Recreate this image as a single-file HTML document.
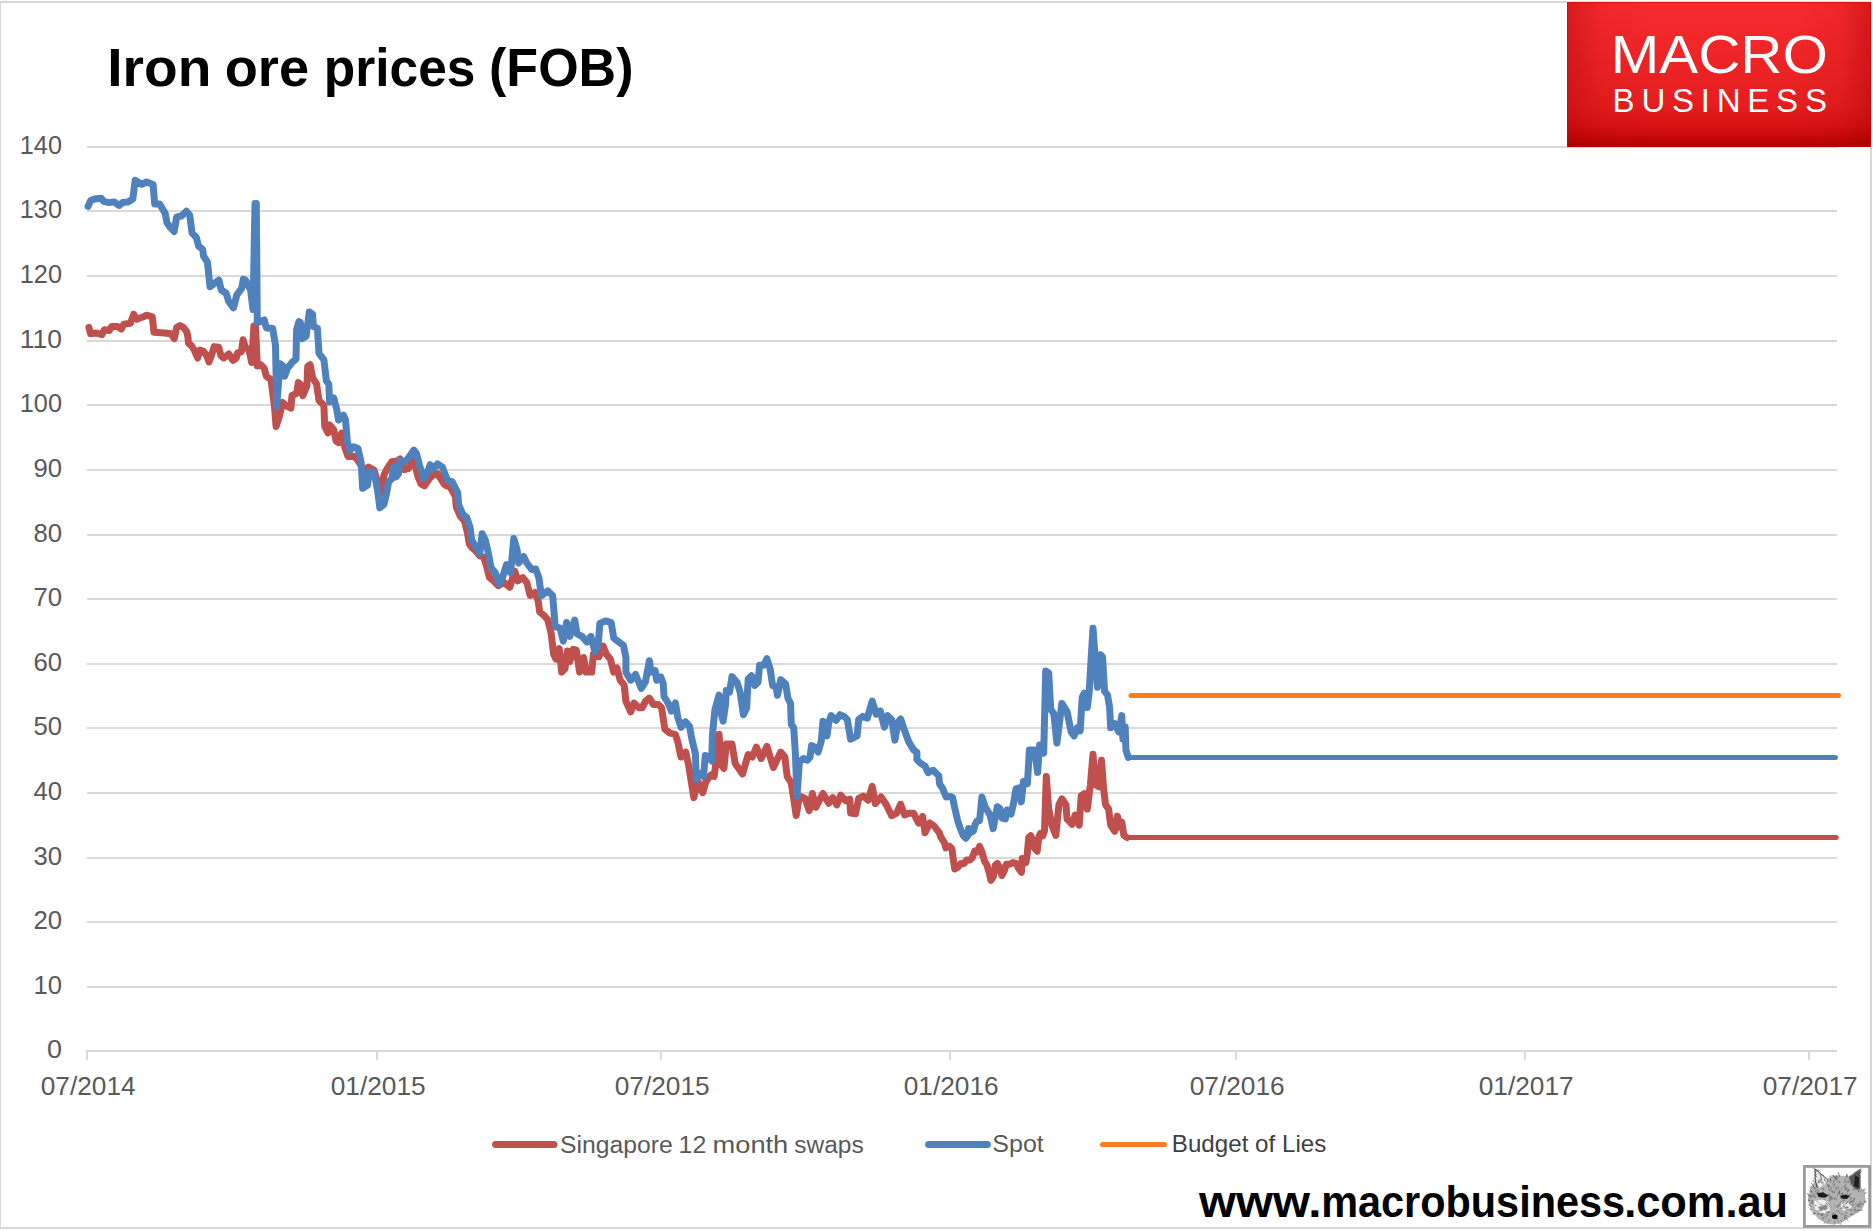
<!DOCTYPE html>
<html><head><meta charset="utf-8"><title>Iron ore prices (FOB)</title>
<style>html,body{margin:0;padding:0;background:#fff;width:1873px;height:1231px;overflow:hidden}svg{display:block}</style>
</head><body>
<svg width="1873" height="1231" viewBox="0 0 1873 1231">
<defs>
<linearGradient id="lg" x1="0" y1="0" x2="0" y2="1">
<stop offset="0" stop-color="#f72b2f"/><stop offset="0.35" stop-color="#ef2527"/><stop offset="0.7" stop-color="#e61e1f"/><stop offset="0.86" stop-color="#d81212"/><stop offset="1" stop-color="#b40000"/>
</linearGradient>
<linearGradient id="lv" x1="0" y1="0" x2="1" y2="0">
<stop offset="0" stop-color="#a00000" stop-opacity="0.35"/><stop offset="0.12" stop-color="#a00000" stop-opacity="0.08"/><stop offset="0.3" stop-color="#a00000" stop-opacity="0"/><stop offset="0.75" stop-color="#a00000" stop-opacity="0"/><stop offset="0.9" stop-color="#a00000" stop-opacity="0.1"/><stop offset="1" stop-color="#a00000" stop-opacity="0.4"/>
</linearGradient>
</defs>
<g fill="#d6d6d6">
<rect x="0" y="1" width="1567" height="2"/>
<rect x="0" y="1" width="1" height="1228"/>
<rect x="1870" y="147" width="2" height="1082"/>
<rect x="0" y="1227" width="1872" height="2"/>
</g>
<g fill="#d9d9d9">
<rect x="86" y="1050" width="1751" height="2"/>
<rect x="87" y="986" width="1750" height="2"/>
<rect x="87" y="921" width="1750" height="2"/>
<rect x="87" y="857" width="1750" height="2"/>
<rect x="87" y="792" width="1750" height="2"/>
<rect x="87" y="727" width="1750" height="2"/>
<rect x="87" y="663" width="1750" height="2"/>
<rect x="87" y="598" width="1750" height="2"/>
<rect x="87" y="534" width="1750" height="2"/>
<rect x="87" y="469" width="1750" height="2"/>
<rect x="87" y="404" width="1750" height="2"/>
<rect x="87" y="340" width="1750" height="2"/>
<rect x="87" y="275" width="1750" height="2"/>
<rect x="87" y="210" width="1750" height="2"/>
<rect x="87" y="146" width="1750" height="2"/>
<rect x="86" y="1052" width="2" height="8"/>
<rect x="376" y="1052" width="2" height="8"/>
<rect x="660" y="1052" width="2" height="8"/>
<rect x="949" y="1052" width="2" height="8"/>
<rect x="1235" y="1052" width="2" height="8"/>
<rect x="1524" y="1052" width="2" height="8"/>
<rect x="1808" y="1052" width="2" height="8"/>
</g>
<g font-family="Liberation Sans, Arial, sans-serif" font-size="25" fill="#595959">
<text x="62.0" y="1058.0" text-anchor="end" textLength="15.0" lengthAdjust="spacingAndGlyphs">0</text>
<text x="62.0" y="994.0" text-anchor="end" textLength="28.6" lengthAdjust="spacingAndGlyphs">10</text>
<text x="62.0" y="929.0" text-anchor="end" textLength="28.6" lengthAdjust="spacingAndGlyphs">20</text>
<text x="62.0" y="865.0" text-anchor="end" textLength="28.6" lengthAdjust="spacingAndGlyphs">30</text>
<text x="62.0" y="800.0" text-anchor="end" textLength="28.6" lengthAdjust="spacingAndGlyphs">40</text>
<text x="62.0" y="735.0" text-anchor="end" textLength="28.6" lengthAdjust="spacingAndGlyphs">50</text>
<text x="62.0" y="671.0" text-anchor="end" textLength="28.6" lengthAdjust="spacingAndGlyphs">60</text>
<text x="62.0" y="606.0" text-anchor="end" textLength="28.6" lengthAdjust="spacingAndGlyphs">70</text>
<text x="62.0" y="542.0" text-anchor="end" textLength="28.6" lengthAdjust="spacingAndGlyphs">80</text>
<text x="62.0" y="477.0" text-anchor="end" textLength="28.6" lengthAdjust="spacingAndGlyphs">90</text>
<text x="62.0" y="412.0" text-anchor="end" textLength="42.2" lengthAdjust="spacingAndGlyphs">100</text>
<text x="62.0" y="348.0" text-anchor="end" textLength="42.2" lengthAdjust="spacingAndGlyphs">110</text>
<text x="62.0" y="283.0" text-anchor="end" textLength="42.2" lengthAdjust="spacingAndGlyphs">120</text>
<text x="62.0" y="218.0" text-anchor="end" textLength="42.2" lengthAdjust="spacingAndGlyphs">130</text>
<text x="62.0" y="154.0" text-anchor="end" textLength="42.2" lengthAdjust="spacingAndGlyphs">140</text>
<text x="88.2" y="1095" text-anchor="middle" textLength="95" lengthAdjust="spacingAndGlyphs">07/2014</text>
<text x="378.2" y="1095" text-anchor="middle" textLength="95" lengthAdjust="spacingAndGlyphs">01/2015</text>
<text x="662.2" y="1095" text-anchor="middle" textLength="95" lengthAdjust="spacingAndGlyphs">07/2015</text>
<text x="951.2" y="1095" text-anchor="middle" textLength="95" lengthAdjust="spacingAndGlyphs">01/2016</text>
<text x="1237.2" y="1095" text-anchor="middle" textLength="95" lengthAdjust="spacingAndGlyphs">07/2016</text>
<text x="1526.2" y="1095" text-anchor="middle" textLength="95" lengthAdjust="spacingAndGlyphs">01/2017</text>
<text x="1810.2" y="1095" text-anchor="middle" textLength="95" lengthAdjust="spacingAndGlyphs">07/2017</text>
</g>
<polyline fill="none" stroke="#c0504d" stroke-width="5" stroke-linecap="round" points="1126.9,837.5 1836.2,837.5"/>
<polyline fill="none" stroke="#c0504d" stroke-width="7" stroke-linejoin="round" stroke-linecap="round" points="88.9,327.3 90.6,333.8 96.2,333.0 101.9,334.7 104.4,329.8 109.2,330.6 111.7,326.5 117.4,326.5 121.4,329.0 123.9,324.1 130.4,323.3 133.6,314.3 136.9,319.2 143.4,316.8 146.6,315.2 152.3,316.8 153.9,332.2 164.5,333.0 171.0,333.8 174.2,338.7 176.7,327.3 180.0,325.6 183.4,327.3 186.8,331.8 188.0,337.5 188.5,343.2 191.4,345.5 194.2,350.0 197.6,358.0 199.9,350.0 203.3,351.2 206.7,355.7 209.0,362.0 211.8,354.6 214.1,346.6 218.7,347.2 220.9,355.7 223.8,358.0 228.9,354.0 232.9,360.3 236.3,358.0 237.4,352.9 241.4,351.8 243.1,339.8 245.4,347.8 248.8,348.9 251.7,362.6 253.9,326.0 255.5,326.0 257.3,366.0 260.8,364.8 264.2,368.2 266.4,376.2 271.0,379.6 274.4,405.8 276.1,426.5 279.5,416.0 282.4,402.4 286.3,405.8 290.9,408.1 292.0,395.5 296.6,393.3 298.3,382.6 300.4,384.2 302.8,395.6 306.9,385.9 307.7,366.4 310.1,364.7 312.6,377.7 316.6,384.2 319.0,400.5 323.9,405.4 324.7,426.5 328.0,433.0 329.6,424.9 333.7,429.7 336.1,441.1 338.5,442.7 341.6,433.0 344.9,447.6 348.1,456.6 354.6,456.6 357.9,460.6 364.4,470.4 368.4,467.1 374.1,470.4 379.0,486.6 381.4,493.1 383.9,475.2 387.1,468.7 392.0,461.4 396.1,461.4 400.1,459.0 404.2,469.6 408.2,468.7 411.5,462.2 413.9,460.6 418.0,476.9 421.2,484.2 424.5,485.8 429.4,478.5 432.6,475.2 437.5,473.6 440.7,478.5 444.0,484.0 447.0,486.0 450.0,486.5 453.0,492.0 455.5,497.0 456.3,507.0 460.5,516.5 464.5,521.0 467.5,533.0 469.3,544.0 472.0,547.5 476.0,551.0 480.0,556.0 483.5,557.0 486.5,566.0 489.5,577.6 493.5,580.8 498.4,585.7 504.1,582.5 509.8,587.3 514.7,571.1 517.9,580.8 522.8,577.6 526.8,582.5 530.1,595.5 534.9,592.5 538.1,600.6 539.7,612.0 543.8,615.2 547.9,620.1 551.1,633.1 553.6,654.2 556.0,659.1 559.2,648.5 561.7,672.1 564.9,668.9 567.4,651.0 569.8,661.5 573.1,649.4 576.3,650.2 579.6,672.1 583.6,657.5 586.1,672.1 591.7,672.1 593.4,654.2 599.0,656.7 603.1,646.1 606.4,654.2 610.4,659.1 613.7,672.1 616.9,668.0 620.2,680.2 624.2,685.1 625.9,701.3 630.7,711.9 634.0,703.0 638.9,707.8 642.1,707.8 645.4,701.3 649.4,698.1 653.5,704.6 658.3,704.6 661.6,707.8 664.8,729.0 669.7,733.0 675.4,734.7 677.8,742.0 681.0,757.0 685.7,752.1 688.9,766.7 693.8,797.6 697.9,781.3 702.7,792.7 706.0,781.3 710.9,774.8 714.1,776.5 715.7,765.1 719.0,734.2 721.4,765.1 723.9,768.4 726.3,744.0 732.0,744.0 735.2,763.5 742.5,774.0 748.2,754.5 752.3,757.0 756.4,747.2 761.2,758.6 766.9,746.4 773.4,767.5 780.7,752.1 784.8,757.0 787.2,776.5 791.3,783.0 796.2,815.5 799.4,796.0 805.1,798.4 809.2,810.6 812.4,793.5 815.7,807.3 823.0,793.5 828.7,803.3 832.7,797.6 836.8,804.9 840.8,795.2 845.7,800.8 849.8,799.2 850.6,813.0 855.5,813.8 858.7,798.4 863.4,796.0 868.1,800.2 872.2,786.4 875.4,803.5 881.1,797.0 886.0,804.3 891.7,815.7 896.6,813.2 900.6,804.3 904.7,814.9 908.7,813.2 913.6,813.2 918.5,823.0 922.6,816.5 925.0,832.7 929.9,823.0 934.1,826.0 936.5,829.2 939.3,832.5 940.6,836.6 943.0,840.6 944.6,843.1 945.8,847.9 949.5,846.3 951.9,848.7 953.6,861.7 954.8,869.0 957.6,867.4 960.9,863.4 964.1,863.4 966.6,860.1 969.8,860.1 972.2,857.7 974.7,851.2 977.1,852.0 979.6,846.3 982.0,852.0 984.4,860.9 986.9,865.0 989.3,873.1 990.9,880.4 993.4,876.4 995.4,865.0 997.4,863.4 999.9,868.2 1001.9,875.5 1004.3,870.7 1006.4,864.2 1009.6,864.2 1012.9,862.6 1016.1,863.4 1018.5,868.2 1021.4,872.3 1022.2,858.5 1025.9,862.6 1027.1,855.2 1028.8,837.4 1030.7,835.7 1033.2,841.4 1034.8,848.7 1037.2,851.2 1038.9,836.6 1040.5,833.3 1042.9,835.7 1044.5,830.9 1046.3,776.5 1048.7,809.0 1051.8,825.2 1055.8,835.4 1058.9,804.9 1061.9,798.8 1066.0,804.9 1067.0,819.1 1072.1,824.2 1075.1,815.1 1079.2,825.2 1081.2,795.8 1084.3,793.8 1087.3,809.0 1090.4,784.6 1093.0,754.2 1095.4,784.6 1098.5,786.7 1101.5,760.3 1103.6,788.7 1105.6,804.9 1108.6,809.0 1110.7,825.2 1114.7,831.3 1117.4,816.1 1119.8,827.3 1121.8,822.2 1123.9,835.4 1126.9,837.5"/>
<polyline fill="none" stroke="#4f81bd" stroke-width="5" stroke-linecap="round" points="1128.3,757.5 1835.5,757.5"/>
<polyline fill="none" stroke="#4f81bd" stroke-width="7" stroke-linejoin="round" stroke-linecap="round" points="88.1,206.3 90.6,200.6 94.6,199.0 101.1,198.2 103.6,201.4 109.2,202.6 114.1,201.9 119.0,205.5 123.0,202.2 128.0,201.9 132.8,199.0 135.2,180.3 141.7,184.4 146.6,181.9 153.1,184.4 154.7,203.9 159.6,203.9 165.3,213.6 166.9,222.6 170.2,227.4 174.2,231.5 176.7,216.9 181.5,216.0 186.4,211.2 189.7,215.2 192.1,233.1 196.2,237.2 198.6,246.1 202.7,249.4 203.5,255.9 207.5,262.4 210.0,286.7 218.9,280.2 221.3,290.0 226.2,293.2 228.7,301.4 233.5,307.8 236.8,294.9 241.7,288.4 243.3,279.4 245.7,280.2 250.6,290.0 253.0,309.5 255.0,203.5 256.3,203.5 257.3,322.7 264.2,319.9 266.4,327.9 272.7,328.4 275.5,345.5 276.7,406.5 280.1,363.7 282.9,366.0 284.6,376.2 287.5,368.2 292.2,362.3 296.0,359.1 296.6,329.6 298.9,321.6 300.4,322.5 302.0,338.7 306.1,336.3 309.3,311.9 312.6,314.4 313.4,326.6 317.4,328.2 319.0,353.4 323.9,359.9 326.4,381.0 328.8,384.2 329.6,402.1 333.7,398.0 336.9,410.2 338.5,420.0 343.4,415.1 345.5,420.0 347.3,441.1 349.7,450.9 353.8,446.8 357.9,448.4 361.1,462.2 362.7,488.2 367.6,485.0 369.2,472.0 373.3,472.0 375.7,480.1 378.2,494.7 379.8,507.7 383.9,504.5 386.3,494.7 388.7,481.7 392.0,478.5 393.6,467.1 396.1,476.9 398.5,473.6 400.1,460.6 405.0,461.4 408.2,458.2 413.9,450.1 416.4,453.3 419.6,465.5 423.7,478.5 426.9,473.6 430.2,464.7 433.4,468.7 437.5,463.9 442.4,467.1 444.8,473.6 448.0,480.9 452.1,481.7 455.4,488.2 457.8,493.1 458.6,504.5 462.7,514.2 466.7,517.5 470.0,527.2 471.6,540.2 475.7,546.7 479.7,553.2 482.2,533.7 485.4,540.2 488.7,554.8 491.1,567.8 495.2,572.7 499.2,584.1 502.5,577.6 506.5,564.6 510.6,572.7 513.8,538.6 517.1,550.0 518.7,563.0 523.6,556.5 526.8,563.0 531.7,569.5 535.7,568.9 538.9,577.9 541.4,595.7 547.9,590.9 552.7,595.7 555.2,626.6 560.1,628.2 563.3,641.2 566.6,622.5 569.8,636.4 574.7,620.1 577.1,633.9 582.0,636.4 586.9,642.0 590.9,636.4 595.0,651.8 598.2,644.5 599.9,623.4 605.5,620.9 611.2,622.6 613.7,638.0 617.7,641.2 623.4,645.3 625.9,657.5 625.9,672.1 630.7,680.2 635.6,674.5 641.3,688.4 645.4,681.9 649.4,660.7 651.0,672.1 655.1,670.5 656.7,680.2 660.8,677.0 663.2,683.5 664.0,696.5 668.1,703.0 671.4,711.1 675.4,703.0 677.8,717.6 681.1,727.3 685.5,721.8 689.5,726.3 692.2,740.7 695.4,753.7 696.2,779.7 699.5,773.2 703.6,776.5 705.2,755.4 709.2,757.0 711.7,761.0 712.5,734.2 714.9,709.9 719.0,695.2 720.6,711.5 723.1,721.2 725.5,705.0 726.3,690.4 729.6,692.0 732.0,676.6 736.9,682.2 740.1,692.0 743.4,714.7 746.6,708.2 748.2,679.0 751.5,675.7 754.7,685.5 758.0,682.2 759.6,665.2 763.7,665.2 766.9,658.7 770.2,669.2 772.6,685.5 775.9,687.1 777.5,695.2 780.7,679.8 785.6,683.9 788.0,698.5 790.5,703.4 791.3,724.5 793.7,727.7 795.4,753.7 797.0,796.0 799.4,761.9 803.5,758.6 807.5,760.2 810.0,757.0 811.6,745.6 814.9,747.2 818.1,752.1 821.3,740.7 823.0,721.2 827.0,735.9 828.7,722.9 831.1,715.5 836.0,720.4 840.0,714.7 844.1,716.4 847.3,719.6 850.6,739.1 857.1,735.9 858.7,719.6 862.8,716.4 867.3,718.2 872.2,701.1 876.2,714.1 880.3,710.9 884.4,727.1 887.6,715.7 891.7,719.8 894.9,740.1 898.2,722.2 900.6,719.0 903.9,728.7 908.7,741.7 913.6,749.9 916.9,752.3 916.9,759.6 920.1,762.9 925.0,766.1 928.2,772.6 933.1,770.2 938.8,775.9 939.6,784.0 942.9,788.9 946.1,797.0 950.2,796.5 952.6,797.5 954.5,807.0 957.6,820.3 960.1,828.0 963.3,835.7 965.7,838.2 967.8,835.7 968.6,828.4 970.6,832.5 973.5,830.9 975.1,824.4 977.1,821.1 979.6,820.5 981.9,797.0 985.1,806.7 990.0,814.9 993.2,828.7 997.3,806.7 999.7,808.4 1002.2,818.1 1005.4,818.9 1007.0,810.0 1011.1,814.0 1013.5,803.5 1016.0,788.9 1019.3,787.7 1021.3,801.9 1023.4,781.6 1027.4,783.6 1029.4,750.1 1034.5,750.1 1037.6,772.4 1039.6,745.0 1043.7,753.1 1045.7,670.9 1048.7,672.9 1050.8,709.5 1053.8,713.6 1056.9,743.0 1061.9,703.4 1067.0,711.5 1071.1,731.8 1074.1,735.9 1077.2,727.8 1080.2,730.8 1082.2,697.3 1084.3,693.2 1087.3,707.5 1089.3,691.2 1090.4,670.9 1093.0,628.3 1095.4,660.8 1097.5,687.2 1100.5,654.7 1102.5,656.7 1104.6,691.2 1107.6,695.3 1109.6,707.5 1110.7,727.8 1114.7,723.7 1118.8,731.8 1121.8,715.6 1122.9,739.0 1125.2,727.0 1125.9,750.0 1128.3,757.5"/>
<line x1="1131.0" y1="695.5" x2="1838.5" y2="695.5" stroke="#fd7b22" stroke-width="5" stroke-linecap="round"/>
<g font-family="Liberation Sans, Arial, sans-serif" font-weight="bold" font-size="53" fill="#000">
<text x="107.3" y="86" textLength="104.0" lengthAdjust="spacingAndGlyphs">Iron</text>
<text x="224.75" y="86" textLength="84.36" lengthAdjust="spacingAndGlyphs">ore</text>
<text x="323.8" y="86" textLength="151.58" lengthAdjust="spacingAndGlyphs">prices</text>
<text x="489.05" y="86" textLength="144.48" lengthAdjust="spacingAndGlyphs">(FOB)</text>
</g>
<rect x="1567" y="2" width="304" height="145" fill="url(#lg)"/>
<rect x="1567" y="2" width="304" height="145" fill="url(#lv)"/>
<rect x="1567" y="1" width="305" height="1" fill="#e4ecec"/><rect x="1871" y="2" width="1" height="145" fill="#eef4f4"/>
<g fill="#dc0202" fill-opacity="0.65"><rect x="1567" y="2" width="304" height="1"/><rect x="1567" y="3" width="1" height="144"/><rect x="1870" y="3" width="1" height="144"/></g>
<text x="1610.8" y="73.4" font-family="Liberation Sans, Arial, sans-serif" font-size="54.2" fill="#fff" textLength="217" lengthAdjust="spacingAndGlyphs">MACRO</text>
<text x="1612.6" y="112.1" font-family="Liberation Sans, Arial, sans-serif" font-size="33" fill="#fff" textLength="214.3" lengthAdjust="spacing">BUSINESS</text>
<g stroke-linecap="round">
<line x1="495.5" y1="1144.5" x2="554" y2="1144.5" stroke="#c0504d" stroke-width="7"/>
<line x1="928.6" y1="1144.5" x2="987.4" y2="1144.5" stroke="#4f81bd" stroke-width="7"/>
<line x1="1102.5" y1="1144.5" x2="1164.4" y2="1144.5" stroke="#fd7b22" stroke-width="5"/>
</g>
<g font-family="Liberation Sans, Arial, sans-serif" fill="#595959">
<text x="560.0" y="1153" font-size="24.7" textLength="112.76" lengthAdjust="spacingAndGlyphs">Singapore</text>
<text x="678.6" y="1153" font-size="24.7" textLength="27.81" lengthAdjust="spacingAndGlyphs">12</text>
<text x="712.5" y="1153" font-size="24.7" textLength="75.8" lengthAdjust="spacingAndGlyphs">month</text>
<text x="794.3" y="1153" font-size="24.7" textLength="69.36" lengthAdjust="spacingAndGlyphs">swaps</text>
<text x="992.3" y="1152.2" font-size="24.7" textLength="51.5" lengthAdjust="spacingAndGlyphs">Spot</text>
<text x="1171.8" y="1151.8" font-size="23.2" fill="#404040" textLength="154.5" lengthAdjust="spacingAndGlyphs">Budget of Lies</text>
</g>
<g font-family="Liberation Sans, Arial, sans-serif" font-weight="bold" font-size="45" fill="#000">
<text x="1199.0" y="1217.2" textLength="122.4" lengthAdjust="spacingAndGlyphs">www.</text>
<text x="1321.2" y="1217.2" textLength="303.9" lengthAdjust="spacingAndGlyphs">macrobusiness</text>
<text x="1624.2" y="1217.2" textLength="163.9" lengthAdjust="spacingAndGlyphs">.com.au</text>
</g>
<rect x="1804.4" y="1166.4" width="65.2" height="60" fill="#fff" stroke="#9a9a9a" stroke-width="2.8"/>
<g><polygon points="1814.8,1168.3 1828.1,1179.3 1830,1175.5 1839,1175.3 1847.5,1176.8 1860.6,1168.3 1860.8,1188 1864.4,1189.6 1865.6,1200.8 1862,1210 1851.6,1216.2 1842,1222.3 1834.7,1224.6 1827,1223.9 1818.4,1218.7 1811.7,1211 1807.6,1200.3 1810.2,1188.5 1815.3,1180.4" fill="#b4b4b4"/><path d="M1815 1169 L1827.5 1179.6 L1824 1186 L1818 1188 L1815.6 1181 Z" fill="#eaeaea"/><path d="M1814 1201 L1822 1199.5 L1829 1202 L1830 1211 L1822 1214 L1815 1209 Z" fill="#efefef"/><path d="M1840 1204 L1848 1202 L1852 1208 L1843 1211 Z" fill="#efefef"/><path d="M1838.6 1188.8L1837.9 1186.4" stroke="#5a5a5a" stroke-width="0.8"/><path d="M1812.1 1191.8L1809.7 1190.7" stroke="#5a5a5a" stroke-width="0.8"/><path d="M1855.8 1175.1L1856.4 1172.4" stroke="#5a5a5a" stroke-width="0.8"/><path d="M1841.0 1190.6L1842.1 1189.4" stroke="#6e6e6e" stroke-width="0.8"/><path d="M1824.1 1176.2L1822.8 1174.6" stroke="#6e6e6e" stroke-width="0.8"/><path d="M1813.1 1200.6L1811.4 1200.3" stroke="#5a5a5a" stroke-width="0.8"/><path d="M1840.3 1203.3L1841.6 1201.1" stroke="#808080" stroke-width="0.8"/><path d="M1834.5 1220.6L1834.6 1222.6" stroke="#6e6e6e" stroke-width="0.8"/><path d="M1848.2 1181.9L1849.4 1179.7" stroke="#808080" stroke-width="0.8"/><path d="M1850.0 1184.4L1851.5 1183.4" stroke="#474747" stroke-width="0.8"/><path d="M1816.7 1187.5L1816.3 1185.2" stroke="#5a5a5a" stroke-width="0.8"/><path d="M1852.1 1200.7L1854.2 1200.2" stroke="#808080" stroke-width="0.8"/><path d="M1842.1 1201.1L1843.7 1198.3" stroke="#808080" stroke-width="0.8"/><path d="M1835.0 1205.9L1833.7 1203.2" stroke="#959595" stroke-width="0.8"/><path d="M1823.8 1190.0L1823.3 1188.5" stroke="#474747" stroke-width="0.8"/><path d="M1828.0 1202.8L1826.8 1201.3" stroke="#808080" stroke-width="0.8"/><path d="M1814.6 1182.1L1812.5 1179.6" stroke="#5a5a5a" stroke-width="0.8"/><path d="M1816.8 1190.9L1815.4 1189.8" stroke="#474747" stroke-width="0.8"/><path d="M1858.0 1183.9L1859.2 1182.0" stroke="#474747" stroke-width="0.8"/><path d="M1817.4 1181.2L1815.6 1179.5" stroke="#959595" stroke-width="0.8"/><path d="M1817.8 1184.1L1815.7 1182.5" stroke="#959595" stroke-width="0.8"/><path d="M1840.4 1222.3L1841.1 1224.8" stroke="#959595" stroke-width="0.8"/><path d="M1845.6 1210.2L1848.8 1209.5" stroke="#959595" stroke-width="0.8"/><path d="M1830.2 1190.7L1828.5 1188.5" stroke="#5a5a5a" stroke-width="0.8"/><path d="M1840.4 1198.6L1842.5 1196.8" stroke="#5a5a5a" stroke-width="0.8"/><path d="M1858.6 1203.0L1860.1 1201.7" stroke="#808080" stroke-width="0.8"/><path d="M1842.5 1195.0L1842.6 1192.6" stroke="#474747" stroke-width="0.8"/><path d="M1835.3 1185.8L1834.3 1183.0" stroke="#808080" stroke-width="0.8"/><path d="M1835.2 1207.4L1835.4 1205.5" stroke="#959595" stroke-width="0.8"/><path d="M1828.3 1207.3L1826.8 1204.8" stroke="#808080" stroke-width="0.8"/><path d="M1848.1 1182.9L1848.6 1181.1" stroke="#6e6e6e" stroke-width="0.8"/><path d="M1838.4 1212.4L1840.4 1212.3" stroke="#6e6e6e" stroke-width="0.8"/><path d="M1850.7 1180.9L1851.7 1179.0" stroke="#5a5a5a" stroke-width="0.8"/><path d="M1834.9 1179.0L1835.1 1176.9" stroke="#808080" stroke-width="0.8"/><path d="M1820.0 1180.9L1818.7 1179.5" stroke="#959595" stroke-width="0.8"/><path d="M1827.3 1204.7L1826.5 1203.1" stroke="#474747" stroke-width="0.8"/><path d="M1853.2 1210.8L1855.0 1210.6" stroke="#808080" stroke-width="0.8"/><path d="M1849.6 1194.4L1850.9 1193.4" stroke="#6e6e6e" stroke-width="0.8"/><path d="M1817.0 1175.2L1814.6 1172.9" stroke="#6e6e6e" stroke-width="0.8"/><path d="M1843.1 1202.0L1845.1 1199.3" stroke="#6e6e6e" stroke-width="0.8"/><path d="M1839.4 1175.5L1838.1 1172.3" stroke="#5a5a5a" stroke-width="0.8"/><path d="M1838.1 1221.2L1839.3 1224.2" stroke="#6e6e6e" stroke-width="0.8"/><path d="M1836.6 1211.5L1838.9 1210.4" stroke="#6e6e6e" stroke-width="0.8"/><path d="M1860.0 1205.8L1862.5 1205.9" stroke="#959595" stroke-width="0.8"/><path d="M1837.1 1217.7L1837.3 1220.5" stroke="#6e6e6e" stroke-width="0.8"/><path d="M1817.2 1195.0L1815.7 1192.8" stroke="#808080" stroke-width="0.8"/><path d="M1847.3 1198.3L1849.2 1195.9" stroke="#959595" stroke-width="0.8"/><path d="M1859.7 1171.6L1861.0 1168.4" stroke="#959595" stroke-width="0.8"/><path d="M1837.2 1207.5L1838.2 1205.1" stroke="#474747" stroke-width="0.8"/><path d="M1837.0 1182.1L1837.2 1178.9" stroke="#808080" stroke-width="0.8"/><path d="M1819.0 1193.5L1817.3 1191.9" stroke="#808080" stroke-width="0.8"/><path d="M1811.3 1206.2L1808.5 1204.5" stroke="#6e6e6e" stroke-width="0.8"/><path d="M1862.4 1204.7L1864.3 1203.9" stroke="#6e6e6e" stroke-width="0.8"/><path d="M1863.2 1190.7L1865.9 1188.6" stroke="#6e6e6e" stroke-width="0.8"/><path d="M1816.5 1192.6L1815.0 1191.0" stroke="#6e6e6e" stroke-width="0.8"/><path d="M1828.6 1187.3L1827.7 1184.5" stroke="#474747" stroke-width="0.8"/><path d="M1826.6 1203.6L1825.4 1202.4" stroke="#6e6e6e" stroke-width="0.8"/><path d="M1853.0 1183.4L1853.4 1181.1" stroke="#808080" stroke-width="0.8"/><path d="M1831.0 1198.6L1830.3 1196.2" stroke="#808080" stroke-width="0.8"/><path d="M1847.6 1192.2L1848.1 1188.9" stroke="#5a5a5a" stroke-width="0.8"/><path d="M1854.3 1172.8L1855.5 1171.7" stroke="#5a5a5a" stroke-width="0.8"/><path d="M1833.8 1187.3L1833.8 1184.0" stroke="#808080" stroke-width="0.8"/><path d="M1844.1 1198.3L1844.8 1196.0" stroke="#6e6e6e" stroke-width="0.8"/><path d="M1823.0 1213.8L1821.5 1213.3" stroke="#5a5a5a" stroke-width="0.8"/><path d="M1850.3 1199.4L1851.6 1197.3" stroke="#474747" stroke-width="0.8"/><path d="M1832.5 1196.2L1832.9 1194.0" stroke="#959595" stroke-width="0.8"/><path d="M1825.2 1180.3L1824.1 1178.7" stroke="#6e6e6e" stroke-width="0.8"/><path d="M1830.9 1187.8L1829.9 1186.4" stroke="#5a5a5a" stroke-width="0.8"/><path d="M1843.9 1218.2L1845.3 1219.0" stroke="#474747" stroke-width="0.8"/><path d="M1858.4 1206.2L1860.1 1205.3" stroke="#808080" stroke-width="0.8"/><path d="M1828.5 1186.7L1829.0 1184.7" stroke="#5a5a5a" stroke-width="0.8"/><path d="M1829.5 1195.1L1828.9 1193.2" stroke="#959595" stroke-width="0.8"/><path d="M1855.2 1176.2L1856.5 1174.3" stroke="#808080" stroke-width="0.8"/><path d="M1825.0 1181.3L1824.4 1178.8" stroke="#6e6e6e" stroke-width="0.8"/><path d="M1845.8 1208.8L1848.1 1209.0" stroke="#808080" stroke-width="0.8"/><path d="M1849.5 1196.2L1850.9 1193.8" stroke="#6e6e6e" stroke-width="0.8"/><path d="M1859.6 1203.8L1862.7 1203.5" stroke="#6e6e6e" stroke-width="0.8"/><path d="M1840.5 1214.3L1843.4 1214.1" stroke="#6e6e6e" stroke-width="0.8"/><path d="M1829.2 1193.7L1828.2 1192.6" stroke="#959595" stroke-width="0.8"/><path d="M1847.2 1195.9L1847.6 1192.8" stroke="#959595" stroke-width="0.8"/><path d="M1860.0 1173.2L1861.7 1170.8" stroke="#474747" stroke-width="0.8"/><path d="M1822.7 1209.6L1819.7 1209.9" stroke="#474747" stroke-width="0.8"/><path d="M1836.1 1189.8L1836.2 1186.9" stroke="#5a5a5a" stroke-width="0.8"/><path d="M1843.4 1204.6L1844.1 1203.0" stroke="#808080" stroke-width="0.8"/><path d="M1845.4 1207.5L1847.1 1207.0" stroke="#474747" stroke-width="0.8"/><path d="M1846.6 1207.5L1848.7 1207.0" stroke="#959595" stroke-width="0.8"/><path d="M1823.8 1194.6L1822.8 1191.2" stroke="#959595" stroke-width="0.8"/><path d="M1834.1 1214.7L1832.4 1216.4" stroke="#808080" stroke-width="0.8"/><path d="M1829.8 1220.2L1828.4 1221.1" stroke="#5a5a5a" stroke-width="0.8"/><path d="M1815.4 1197.9L1814.5 1196.3" stroke="#959595" stroke-width="0.8"/><path d="M1828.5 1196.4L1828.5 1194.1" stroke="#6e6e6e" stroke-width="0.8"/><path d="M1833.6 1185.2L1832.7 1183.2" stroke="#808080" stroke-width="0.8"/><path d="M1814.1 1186.9L1812.5 1185.5" stroke="#474747" stroke-width="0.8"/><path d="M1824.1 1189.2L1822.3 1186.2" stroke="#959595" stroke-width="0.8"/><path d="M1846.1 1204.2L1848.0 1201.4" stroke="#474747" stroke-width="0.8"/><path d="M1837.1 1178.8L1836.9 1175.4" stroke="#5a5a5a" stroke-width="0.8"/><path d="M1854.9 1204.0L1858.3 1204.1" stroke="#959595" stroke-width="0.8"/><path d="M1819.0 1172.6L1819.1 1170.3" stroke="#959595" stroke-width="0.8"/><path d="M1851.4 1204.7L1852.7 1203.8" stroke="#959595" stroke-width="0.8"/><path d="M1814.5 1194.9L1812.7 1193.8" stroke="#808080" stroke-width="0.8"/><path d="M1831.0 1181.6L1830.5 1178.8" stroke="#5a5a5a" stroke-width="0.8"/><path d="M1816.9 1177.2L1814.6 1174.8" stroke="#474747" stroke-width="0.8"/><path d="M1839.5 1193.8L1839.7 1190.8" stroke="#474747" stroke-width="0.8"/><path d="M1812.4 1187.5L1810.5 1186.7" stroke="#808080" stroke-width="0.8"/><path d="M1854.8 1179.5L1855.0 1176.3" stroke="#474747" stroke-width="0.8"/><path d="M1831.4 1197.9L1830.6 1195.8" stroke="#5a5a5a" stroke-width="0.8"/><path d="M1836.4 1200.7L1836.3 1197.9" stroke="#959595" stroke-width="0.8"/><path d="M1844.1 1217.2L1846.1 1217.7" stroke="#6e6e6e" stroke-width="0.8"/><path d="M1829.7 1204.8L1828.3 1203.2" stroke="#5a5a5a" stroke-width="0.8"/><path d="M1814.5 1192.2L1812.9 1189.6" stroke="#959595" stroke-width="0.8"/><path d="M1838.1 1194.7L1838.5 1191.6" stroke="#6e6e6e" stroke-width="0.8"/><path d="M1816.1 1197.8L1813.8 1195.3" stroke="#474747" stroke-width="0.8"/><path d="M1844.0 1198.1L1845.4 1195.5" stroke="#5a5a5a" stroke-width="0.8"/><path d="M1811.2 1197.9L1809.3 1196.6" stroke="#6e6e6e" stroke-width="0.8"/><path d="M1823.4 1186.0L1823.3 1184.1" stroke="#959595" stroke-width="0.8"/><path d="M1820.9 1182.1L1820.9 1179.2" stroke="#808080" stroke-width="0.8"/><path d="M1859.2 1204.9L1860.7 1203.6" stroke="#474747" stroke-width="0.8"/><path d="M1831.8 1206.9L1829.5 1204.9" stroke="#959595" stroke-width="0.8"/><path d="M1811.0 1196.3L1808.1 1195.4" stroke="#6e6e6e" stroke-width="0.8"/><path d="M1820.6 1180.6L1820.3 1178.6" stroke="#959595" stroke-width="0.8"/><path d="M1836.3 1178.7L1835.7 1176.4" stroke="#5a5a5a" stroke-width="0.8"/><path d="M1830.2 1180.1L1830.8 1178.4" stroke="#5a5a5a" stroke-width="0.8"/><path d="M1848.9 1178.5L1849.9 1175.7" stroke="#808080" stroke-width="0.8"/><path d="M1846.2 1189.6L1846.9 1187.5" stroke="#6e6e6e" stroke-width="0.8"/><path d="M1811.8 1192.0L1810.6 1189.6" stroke="#6e6e6e" stroke-width="0.8"/><path d="M1829.4 1211.8L1826.4 1212.3" stroke="#5a5a5a" stroke-width="0.8"/><path d="M1809.9 1195.0L1806.9 1193.5" stroke="#6e6e6e" stroke-width="0.8"/><path d="M1826.1 1210.0L1823.4 1209.5" stroke="#6e6e6e" stroke-width="0.8"/><path d="M1854.9 1211.7L1856.3 1211.0" stroke="#5a5a5a" stroke-width="0.8"/><path d="M1818.5 1171.6L1817.9 1169.4" stroke="#808080" stroke-width="0.8"/><path d="M1863.5 1203.2L1866.0 1201.7" stroke="#808080" stroke-width="0.8"/><path d="M1849.6 1201.9L1852.8 1201.0" stroke="#5a5a5a" stroke-width="0.8"/><path d="M1835.0 1222.5L1834.0 1224.6" stroke="#808080" stroke-width="0.8"/><path d="M1814.8 1196.3L1811.5 1195.7" stroke="#808080" stroke-width="0.8"/><path d="M1855.5 1212.1L1857.7 1212.3" stroke="#808080" stroke-width="0.8"/><path d="M1834.2 1212.7L1832.1 1214.1" stroke="#474747" stroke-width="0.8"/><path d="M1851.4 1182.1L1851.5 1180.5" stroke="#959595" stroke-width="0.8"/><path d="M1839.1 1177.2L1839.2 1175.5" stroke="#5a5a5a" stroke-width="0.8"/><path d="M1812.7 1196.4L1811.1 1194.7" stroke="#6e6e6e" stroke-width="0.8"/><path d="M1814.8 1194.3L1814.0 1192.5" stroke="#959595" stroke-width="0.8"/><path d="M1857.0 1205.9L1859.5 1203.9" stroke="#808080" stroke-width="0.8"/><path d="M1823.5 1183.3L1822.3 1181.6" stroke="#474747" stroke-width="0.8"/><path d="M1821.6 1182.0L1819.3 1179.6" stroke="#959595" stroke-width="0.8"/><path d="M1818.1 1171.7L1816.9 1170.1" stroke="#959595" stroke-width="0.8"/><path d="M1820.7 1214.1L1817.2 1214.0" stroke="#5a5a5a" stroke-width="0.8"/><path d="M1820.6 1193.6L1818.3 1191.3" stroke="#6e6e6e" stroke-width="0.8"/><path d="M1864.4 1201.2L1866.6 1201.4" stroke="#6e6e6e" stroke-width="0.8"/><path d="M1833.5 1182.8L1834.3 1179.5" stroke="#5a5a5a" stroke-width="0.8"/><path d="M1844.6 1208.5L1846.0 1207.7" stroke="#808080" stroke-width="0.8"/><path d="M1815.3 1179.6L1813.4 1177.7" stroke="#6e6e6e" stroke-width="0.8"/><path d="M1831.1 1189.2L1831.1 1187.5" stroke="#5a5a5a" stroke-width="0.8"/><path d="M1853.9 1199.2L1854.8 1197.8" stroke="#474747" stroke-width="0.8"/><path d="M1846.2 1176.8L1847.1 1174.2" stroke="#474747" stroke-width="0.8"/><path d="M1848.0 1191.4L1848.7 1189.4" stroke="#5a5a5a" stroke-width="0.8"/><path d="M1825.4 1200.3L1823.7 1198.7" stroke="#808080" stroke-width="0.8"/><path d="M1845.0 1190.3L1846.1 1187.1" stroke="#474747" stroke-width="0.8"/><path d="M1860.2 1192.2L1862.4 1191.4" stroke="#808080" stroke-width="0.8"/><path d="M1834.2 1177.3L1832.9 1175.0" stroke="#474747" stroke-width="0.8"/><path d="M1812.3 1203.5L1809.8 1202.9" stroke="#6e6e6e" stroke-width="0.8"/><path d="M1817.1 1171.8L1815.6 1169.2" stroke="#6e6e6e" stroke-width="0.8"/><path d="M1824.8 1215.7L1822.5 1218.1" stroke="#808080" stroke-width="0.8"/><path d="M1829.9 1219.5L1827.8 1221.9" stroke="#6e6e6e" stroke-width="0.8"/><path d="M1844.8 1216.8L1847.1 1218.3" stroke="#6e6e6e" stroke-width="0.8"/><path d="M1855.9 1178.4L1856.5 1176.2" stroke="#959595" stroke-width="0.8"/><path d="M1816.2 1188.5L1813.3 1186.7" stroke="#6e6e6e" stroke-width="0.8"/><path d="M1809.4 1200.1L1808.2 1199.0" stroke="#808080" stroke-width="0.8"/><path d="M1813.9 1202.2L1811.5 1200.9" stroke="#808080" stroke-width="0.8"/><path d="M1845.3 1185.6L1845.6 1183.3" stroke="#808080" stroke-width="0.8"/><path d="M1833.4 1193.0L1831.9 1190.7" stroke="#474747" stroke-width="0.8"/><path d="M1834.5 1193.5L1834.7 1190.3" stroke="#6e6e6e" stroke-width="0.8"/><path d="M1854.8 1190.8L1855.5 1188.7" stroke="#808080" stroke-width="0.8"/><path d="M1812.4 1193.2L1811.2 1192.2" stroke="#6e6e6e" stroke-width="0.8"/><path d="M1811.9 1209.8L1809.5 1208.9" stroke="#5a5a5a" stroke-width="0.8"/><path d="M1845.5 1212.7L1847.0 1212.1" stroke="#959595" stroke-width="0.8"/><path d="M1850.2 1214.5L1853.6 1214.0" stroke="#474747" stroke-width="0.8"/><path d="M1824.0 1214.2L1821.1 1214.0" stroke="#6e6e6e" stroke-width="0.8"/><path d="M1810.9 1188.0L1809.9 1186.4" stroke="#959595" stroke-width="0.8"/><path d="M1823.2 1214.5L1821.1 1215.8" stroke="#474747" stroke-width="0.8"/><path d="M1819.3 1183.0L1818.3 1181.1" stroke="#5a5a5a" stroke-width="0.8"/><path d="M1818.7 1191.0L1817.7 1189.2" stroke="#808080" stroke-width="0.8"/><path d="M1859.8 1177.6L1861.2 1176.6" stroke="#959595" stroke-width="0.8"/><path d="M1864.0 1193.8L1866.5 1192.3" stroke="#5a5a5a" stroke-width="0.8"/><path d="M1821.9 1198.5L1820.7 1195.8" stroke="#808080" stroke-width="0.8"/><path d="M1841.1 1188.5L1842.2 1186.5" stroke="#6e6e6e" stroke-width="0.8"/><path d="M1824.5 1197.4L1822.0 1195.1" stroke="#959595" stroke-width="0.8"/><path d="M1850.2 1210.6L1852.2 1209.8" stroke="#474747" stroke-width="0.8"/><path d="M1831.6 1188.8L1830.3 1186.7" stroke="#959595" stroke-width="0.8"/><path d="M1813.3 1188.4L1811.0 1187.0" stroke="#959595" stroke-width="0.8"/><path d="M1814.9 1188.9L1814.2 1187.2" stroke="#5a5a5a" stroke-width="0.8"/><path d="M1815.8 1173.5L1814.8 1170.4" stroke="#808080" stroke-width="0.8"/><path d="M1830.7 1183.1L1829.1 1180.8" stroke="#959595" stroke-width="0.8"/><path d="M1859.7 1201.9L1862.2 1201.1" stroke="#959595" stroke-width="0.8"/><path d="M1850.3 1182.2L1851.5 1181.1" stroke="#959595" stroke-width="0.8"/><path d="M1813.2 1202.9L1811.6 1201.9" stroke="#474747" stroke-width="0.8"/><path d="M1818.8 1202.7L1816.4 1201.3" stroke="#959595" stroke-width="0.8"/><path d="M1817.3 1185.6L1816.2 1184.5" stroke="#474747" stroke-width="0.8"/><path d="M1856.8 1210.5L1859.8 1210.2" stroke="#474747" stroke-width="0.8"/><path d="M1822.4 1204.7L1819.2 1204.2" stroke="#808080" stroke-width="0.8"/><path d="M1849.0 1183.2L1850.1 1181.1" stroke="#959595" stroke-width="0.8"/><path d="M1812.0 1196.9L1808.8 1196.1" stroke="#6e6e6e" stroke-width="0.8"/><path d="M1826.3 1218.2L1824.9 1219.6" stroke="#959595" stroke-width="0.8"/><path d="M1834.7 1215.9L1833.8 1219.0" stroke="#474747" stroke-width="0.8"/><path d="M1830.1 1201.4L1829.4 1199.6" stroke="#5a5a5a" stroke-width="0.8"/><path d="M1815.4 1169.6L1813.1 1167.8" stroke="#5a5a5a" stroke-width="0.8"/><path d="M1848.1 1210.0L1850.4 1208.5" stroke="#808080" stroke-width="0.8"/><path d="M1838.5 1205.9L1840.9 1204.0" stroke="#474747" stroke-width="0.8"/><path d="M1844.4 1215.0L1846.3 1215.9" stroke="#5a5a5a" stroke-width="0.8"/><path d="M1814.8 1213.1L1812.7 1213.0" stroke="#808080" stroke-width="0.8"/><path d="M1822.1 1184.1L1821.7 1181.9" stroke="#808080" stroke-width="0.8"/><path d="M1852.4 1202.3L1854.2 1201.3" stroke="#5a5a5a" stroke-width="0.8"/><path d="M1840.4 1208.7L1843.0 1208.1" stroke="#808080" stroke-width="0.8"/><path d="M1818.9 1211.4L1817.6 1210.7" stroke="#474747" stroke-width="0.8"/><path d="M1812.6 1207.6L1809.7 1205.9" stroke="#959595" stroke-width="0.8"/><path d="M1827.5 1215.4L1824.8 1217.5" stroke="#808080" stroke-width="0.8"/><path d="M1820.7 1177.5L1820.8 1174.4" stroke="#474747" stroke-width="0.8"/><path d="M1853.5 1207.7L1856.2 1207.9" stroke="#808080" stroke-width="0.8"/><path d="M1859.6 1210.5L1862.4 1210.1" stroke="#808080" stroke-width="0.8"/><path d="M1819.2 1183.0L1818.9 1180.5" stroke="#474747" stroke-width="0.8"/><path d="M1842.1 1207.3L1843.4 1206.6" stroke="#959595" stroke-width="0.8"/><path d="M1856.7 1205.7L1858.6 1205.7" stroke="#474747" stroke-width="0.8"/><path d="M1847.7 1182.7L1848.0 1180.5" stroke="#6e6e6e" stroke-width="0.8"/><path d="M1837.0 1183.2L1838.0 1180.3" stroke="#959595" stroke-width="0.8"/><path d="M1816.1 1176.9L1814.7 1175.3" stroke="#959595" stroke-width="0.8"/><path d="M1827.6 1181.5L1828.0 1179.5" stroke="#5a5a5a" stroke-width="0.8"/><path d="M1816.7 1205.5L1814.9 1205.4" stroke="#6e6e6e" stroke-width="0.8"/><path d="M1853.9 1209.8L1855.8 1209.5" stroke="#5a5a5a" stroke-width="0.8"/><path d="M1823.6 1218.5L1822.3 1219.3" stroke="#474747" stroke-width="0.8"/><path d="M1847.9 1196.5L1849.7 1194.9" stroke="#6e6e6e" stroke-width="0.8"/><path d="M1822.2 1210.1L1820.3 1210.8" stroke="#474747" stroke-width="0.8"/><path d="M1848.4 1201.5L1851.1 1199.9" stroke="#959595" stroke-width="0.8"/><path d="M1857.3 1206.7L1859.7 1206.5" stroke="#808080" stroke-width="0.8"/><path d="M1822.3 1207.9L1820.8 1206.7" stroke="#474747" stroke-width="0.8"/><path d="M1849.1 1203.9L1850.8 1202.2" stroke="#474747" stroke-width="0.8"/><path d="M1837.6 1205.7L1839.8 1203.3" stroke="#808080" stroke-width="0.8"/><path d="M1852.9 1190.2L1855.1 1187.5" stroke="#5a5a5a" stroke-width="0.8"/><path d="M1821.8 1180.4L1821.2 1177.1" stroke="#6e6e6e" stroke-width="0.8"/><path d="M1840.9 1198.8L1842.4 1196.8" stroke="#808080" stroke-width="0.8"/><path d="M1837.8 1191.4L1838.8 1189.8" stroke="#6e6e6e" stroke-width="0.8"/><path d="M1830.2 1211.5L1826.8 1212.4" stroke="#808080" stroke-width="0.8"/><path d="M1844.6 1182.4L1844.9 1180.8" stroke="#5a5a5a" stroke-width="0.8"/><path d="M1831.7 1192.0L1831.8 1189.8" stroke="#808080" stroke-width="0.8"/><path d="M1813.4 1185.3L1811.1 1182.9" stroke="#6e6e6e" stroke-width="0.8"/><path d="M1834.3 1177.4L1834.9 1175.9" stroke="#6e6e6e" stroke-width="0.8"/><path d="M1834.7 1200.0L1833.7 1196.8" stroke="#808080" stroke-width="0.8"/><path d="M1846.3 1215.3L1848.2 1216.6" stroke="#808080" stroke-width="0.8"/><path d="M1851.8 1205.0L1854.3 1204.8" stroke="#6e6e6e" stroke-width="0.8"/><path d="M1822.8 1189.4L1821.2 1187.7" stroke="#6e6e6e" stroke-width="0.8"/><path d="M1835.4 1213.9L1835.2 1216.1" stroke="#808080" stroke-width="0.8"/><path d="M1825.9 1195.6L1825.3 1194.1" stroke="#808080" stroke-width="0.8"/><path d="M1816.0 1185.3L1814.9 1184.0" stroke="#959595" stroke-width="0.8"/><path d="M1845.7 1182.3L1845.6 1180.5" stroke="#6e6e6e" stroke-width="0.8"/><path d="M1818.0 1193.8L1817.1 1192.0" stroke="#474747" stroke-width="0.8"/><path d="M1853.7 1177.6L1855.8 1175.9" stroke="#5a5a5a" stroke-width="0.8"/><path d="M1846.4 1219.0L1848.6 1221.3" stroke="#6e6e6e" stroke-width="0.8"/><path d="M1836.2 1180.1L1835.0 1177.2" stroke="#5a5a5a" stroke-width="0.8"/><path d="M1839.7 1183.1L1839.6 1181.3" stroke="#474747" stroke-width="0.8"/><path d="M1839.9 1195.6L1841.7 1193.4" stroke="#6e6e6e" stroke-width="0.8"/><path d="M1836.4 1198.8L1837.1 1197.4" stroke="#808080" stroke-width="0.8"/><path d="M1834.6 1200.1L1835.0 1196.9" stroke="#808080" stroke-width="0.8"/><path d="M1846.9 1178.3L1847.4 1175.6" stroke="#5a5a5a" stroke-width="0.8"/><path d="M1843.0 1206.9L1845.1 1206.6" stroke="#5a5a5a" stroke-width="0.8"/><path d="M1837.1 1195.6L1837.9 1194.3" stroke="#474747" stroke-width="0.8"/><path d="M1843.9 1187.3L1845.3 1185.6" stroke="#474747" stroke-width="0.8"/><path d="M1852.9 1199.6L1855.0 1199.2" stroke="#808080" stroke-width="0.8"/><path d="M1831.9 1199.6L1832.1 1197.5" stroke="#474747" stroke-width="0.8"/><path d="M1830.8 1196.7L1829.6 1194.5" stroke="#6e6e6e" stroke-width="0.8"/><path d="M1845.6 1213.1L1847.7 1213.0" stroke="#808080" stroke-width="0.8"/><path d="M1830.5 1199.6L1829.4 1197.2" stroke="#474747" stroke-width="0.8"/><path d="M1842.9 1205.5L1846.0 1204.2" stroke="#959595" stroke-width="0.8"/><path d="M1846.7 1207.3L1848.4 1207.3" stroke="#5a5a5a" stroke-width="0.8"/><path d="M1846.4 1194.1L1847.6 1192.9" stroke="#6e6e6e" stroke-width="0.8"/><path d="M1858.3 1192.0L1859.8 1189.0" stroke="#5a5a5a" stroke-width="0.8"/><path d="M1828.8 1214.9L1826.2 1215.3" stroke="#808080" stroke-width="0.8"/><path d="M1857.9 1178.5L1858.1 1177.0" stroke="#959595" stroke-width="0.8"/><path d="M1810.2 1200.3L1808.5 1200.4" stroke="#474747" stroke-width="0.8"/><path d="M1840.9 1220.4L1841.9 1221.6" stroke="#474747" stroke-width="0.8"/><path d="M1845.9 1176.9L1847.3 1174.7" stroke="#5a5a5a" stroke-width="0.8"/><path d="M1845.0 1180.1L1845.0 1178.6" stroke="#5a5a5a" stroke-width="0.8"/><path d="M1819.9 1174.9L1819.0 1173.0" stroke="#959595" stroke-width="0.8"/><path d="M1821.3 1209.8L1819.7 1210.1" stroke="#6e6e6e" stroke-width="0.8"/><path d="M1844.1 1208.4L1847.2 1207.1" stroke="#808080" stroke-width="0.8"/><path d="M1859.1 1207.1L1861.4 1207.0" stroke="#808080" stroke-width="0.8"/><path d="M1850.0 1177.5L1851.8 1175.7" stroke="#5a5a5a" stroke-width="0.8"/><path d="M1825.7 1222.1L1823.6 1223.4" stroke="#6e6e6e" stroke-width="0.8"/><path d="M1815.5 1213.4L1812.8 1214.0" stroke="#474747" stroke-width="0.8"/><path d="M1835.1 1212.4L1836.0 1214.2" stroke="#959595" stroke-width="0.8"/><path d="M1826.7 1184.0L1826.2 1181.2" stroke="#959595" stroke-width="0.8"/><path d="M1815 1169 L1827.5 1179.6 M1815 1169 L1815.3 1181 L1818 1188" stroke="#333" stroke-width="0.8" fill="none"/><path d="M1860.2 1169 L1849 1177.5 L1852 1186 L1857 1190 L1860.5 1188 Z" fill="#555"/><path d="M1855 1175 L1859 1178 L1858.5 1188 L1854 1186 Z" fill="#1e1e1e"/><path d="M1817 1193.5 L1823 1192.2 L1828.5 1195.5 L1825 1197.8 L1818.5 1197 Z" fill="#1a1a1a"/><path d="M1840 1196 L1845 1194.6 L1850 1196 L1847 1199 L1841.5 1198.6 Z" fill="#1a1a1a"/><path d="M1818 1207 L1826 1204.5 L1828 1209 L1820 1210 Z" fill="#8a8a8a"/><ellipse cx="1834.8" cy="1216.8" rx="2.8" ry="2.3" fill="#0a0a0a"/></g>
</svg>
</body></html>
